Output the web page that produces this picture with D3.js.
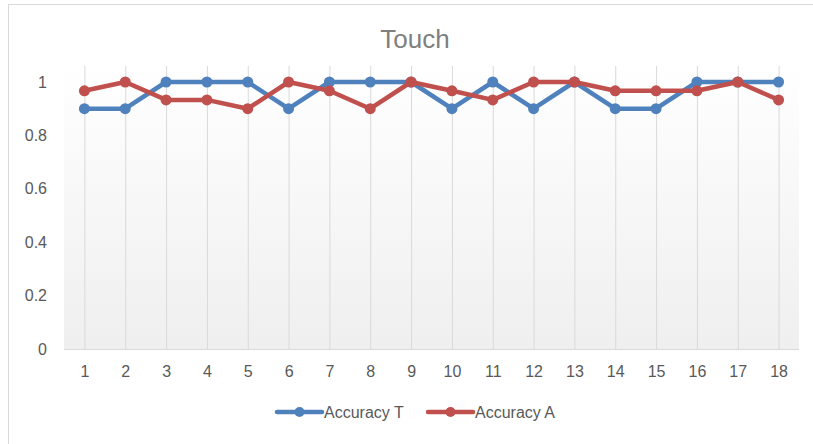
<!DOCTYPE html>
<html>
<head>
<meta charset="utf-8">
<script src="https://cdn.jsdelivr.net/npm/d3@7"></script>
<style>
  body { margin: 0; background: #fff; }
  svg { display: block; font-family: "Liberation Sans", Arial, sans-serif; }
</style>
</head>
<body>
<div id="chart-area"></div>
<script>
// data
const categories = ["1","2","3","4","5","6","7","8","9","10","11","12","13","14","15","16","17","18"];
const accuracyT = [0.9, 0.9, 1, 1, 1, 0.9, 1, 1, 1, 0.9, 1, 0.9, 1, 0.9, 0.9, 1, 1, 1];
const accuracyA = [0.967, 1, 0.933, 0.933, 0.9, 1, 0.967, 0.9, 1, 0.967, 0.933, 1, 1, 0.967, 0.967, 0.967, 1, 0.933];
const yTicks = [0, 0.2, 0.4, 0.6, 0.8, 1];
const seriesNames = ["Accuracy T", "Accuracy A"];

let svgW = 813;
let svgH = 444;

let plot = { left: 64, right: 799, top: 66, bottom: 349 };

let blue = "#4f81bd";
let red = "#c0504d";

let svg = d3.select("#chart-area")
  .append("svg")
  .attr("width", svgW)
  .attr("height", svgH)

// chart border
svg.append("rect")
  .attr("x", 8.5)
  .attr("y", 4.5)
  .attr("width", 820)
  .attr("height", 450)
  .attr("fill", "#fff")
  .attr("stroke", "#d9d9d9")

let defs = svg.append("defs")
let grad = defs.append("linearGradient")
  .attr("id", "plotFill")
  .attr("x1", 0).attr("y1", 0)
  .attr("x2", 0).attr("y2", 1)
grad.append("stop").attr("offset", "0%").attr("stop-color", "#ffffff")
grad.append("stop").attr("offset", "100%").attr("stop-color", "#efefef")

svg.append("rect")
  .attr("x", plot.left)
  .attr("y", plot.top)
  .attr("width", plot.right - plot.left)
  .attr("height", plot.bottom - plot.top)
  .attr("fill", "url(#plotFill)")

let x = d3.scalePoint()
  .domain(categories)
  .range([plot.left, plot.right])
  .padding(0.5)

let y = d3.scaleLinear()
  .domain([0, 1])
  .range([plot.bottom, 82])

// vertical gridlines through categories
let grid = svg.append("g")
  .attr("transform", `translate(0, ${plot.bottom})`)
  .call(d3.axisBottom(x).tickSize(-(plot.bottom - plot.top)).tickFormat(""))
grid.select(".domain").remove()
grid.selectAll("line").attr("stroke", "#d9d9d9")

// x axis line
svg.append("line")
  .attr("x1", plot.left).attr("x2", plot.right)
  .attr("y1", plot.bottom + 0.5).attr("y2", plot.bottom + 0.5)
  .attr("stroke", "#d9d9d9")

let xAxis = svg.append("g")
  .attr("transform", `translate(0, ${plot.bottom})`)
  .call(d3.axisBottom(x).tickSize(0).tickPadding(17))
xAxis.select(".domain").remove()
xAxis.selectAll("text")
  .attr("fill", "#595959")
  .style("font-size", "16px")
  .style("font-family", "'Liberation Sans', Arial, sans-serif")

let yAxis = svg.append("g")
  .attr("transform", `translate(47, 0)`)
  .call(d3.axisLeft(y).tickValues(yTicks).tickSize(0).tickPadding(0).tickFormat(d3.format("")))
yAxis.select(".domain").remove()
yAxis.selectAll("text")
  .attr("fill", "#595959")
  .style("font-size", "16px")
  .style("font-family", "'Liberation Sans', Arial, sans-serif")

// title
svg.append("text")
  .attr("x", 415)
  .attr("y", 48)
  .attr("text-anchor", "middle")
  .attr("fill", "#7f7f7f")
  .style("font-size", "26px")
  .text("Touch")

let line = d3.line()
  .x((d, i) => x(categories[i]))
  .y(d => y(d))

let series = [
  { name: seriesNames[0], values: accuracyT, color: blue },
  { name: seriesNames[1], values: accuracyA, color: red }
]

series.forEach(s => {
  svg.append("path")
    .datum(s.values)
    .attr("fill", "none")
    .attr("stroke", s.color)
    .attr("stroke-width", 4.5)
    .attr("stroke-linejoin", "round")
    .attr("d", line)

  svg.append("g")
    .selectAll("circle")
    .data(s.values)
    .enter()
    .append("circle")
    .attr("cx", (d, i) => x(categories[i]))
    .attr("cy", d => y(d))
    .attr("r", 5.5)
    .attr("fill", s.color)
})

// legend
let legendX = [277, 428];
let legend = svg.append("g")
series.forEach((s, i) => {
  let g = legend.append("g").attr("transform", `translate(${legendX[i]}, 412)`)
  g.append("line")
    .attr("x1", 0).attr("x2", 45)
    .attr("y1", 0).attr("y2", 0)
    .attr("stroke", s.color)
    .attr("stroke-width", 4.5)
    .attr("stroke-linecap", "round")
  g.append("circle")
    .attr("cx", 22.5).attr("cy", 0).attr("r", 5)
    .attr("fill", s.color)
  g.append("text")
    .attr("x", 47)
    .attr("y", 0)
    .attr("dy", "0.35em")
    .attr("fill", "#595959")
    .style("font-size", "16px")
    .text(s.name)
})
</script>
</body>
</html>
